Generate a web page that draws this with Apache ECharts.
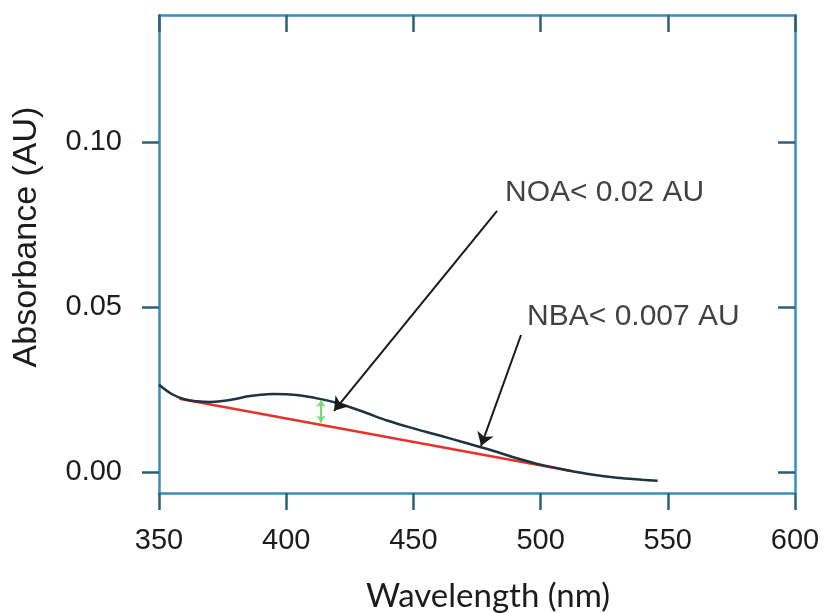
<!DOCTYPE html>
<html>
<head>
<meta charset="utf-8">
<script src="https://cdn.jsdelivr.net/npm/echarts@6/dist/echarts.min.js"></script>
<style>
html,body{margin:0;padding:0;background:#fff;}
#chart{width:824px;height:613px;}
</style>
</head>
<body>
<div id="chart"></div>
<script>
// ---- data ----
const wavelength = [350, 355, 360, 365, 370, 375, 380, 385, 390, 395, 400, 405, 410, 420, 430, 440, 450, 460, 470, 480, 490, 500, 510, 520, 530, 540, 546];
const absorbance = [0.0264, 0.0236, 0.0220, 0.0214, 0.0212, 0.0215, 0.0221, 0.0229, 0.0234, 0.0236, 0.0235, 0.0232, 0.0226, 0.0209, 0.0183, 0.0155, 0.0132, 0.0111, 0.0089, 0.0067, 0.0043, 0.0022, 0.0006, -0.0008, -0.0018, -0.0024, -0.0027];
const baselineX = [358, 512];
const baselineY = [0.0222, 0.0003];
const yTickValues = [0, 0.05, 0.10];
const noaArrow = [[482.9, 0.0791], [418.8, 0.0185]];
const nbaArrow = [[492.3, 0.0415], [476.6, 0.0079]];
const gapArrow = [[413.7, 0.0150], [413.7, 0.0218]];
const noteTexts = ['NOA< 0.02 AU', 'NBA< 0.007 AU'];
const notePositions = [[486, 0.0845], [494.7, 0.047]];
const xAxisTitle = 'Wavelength (nm)';
const yAxisTitle = 'Absorbance (AU)';

// ---- chart ----
const chart = echarts.init(document.getElementById('chart'));
const axisBlue = '#3b8dba';
const tickCol = '#2d5f76';
const tickFont = {fontFamily: 'Liberation Sans, Arial, sans-serif', fontSize: 29, color: '#1c1c1c'};

const xBase = {
  type: 'value', min: 350, max: 600, interval: 50,
  splitLine: {show: false},
  axisLine: {show: true, onZero: false, lineStyle: {color: axisBlue, width: 2.5}},
  axisTick: {show: true, length: 17, lineStyle: {color: tickCol, width: 2.5}}
};
const yBase = {
  type: 'value', min: -0.0064, max: 0.1385,
  splitLine: {show: false},
  axisLine: {show: true, onZero: false, lineStyle: {color: axisBlue, width: 2.5}},
  axisTick: {show: true, length: 17, customValues: yTickValues, lineStyle: {color: tickCol, width: 2.5}}
};

const option = {
  animation: false,
  backgroundColor: '#ffffff',
  grid: {left: 159, right: 29, top: 15, bottom: 120, containLabel: false},
  xAxis: [
    Object.assign({}, xBase, {
      position: 'bottom',
      axisLabel: Object.assign({margin: 33}, tickFont)
    }),
    Object.assign({}, xBase, {
      position: 'top',
      axisTick: {show: true, inside: true, length: 17, lineStyle: {color: tickCol, width: 2.5}},
      axisLabel: {show: false}
    })
  ],
  yAxis: [
    Object.assign({}, yBase, {
      position: 'left',
      axisLabel: Object.assign({margin: 37, customValues: yTickValues, formatter: v => v.toFixed(2)}, tickFont)
    }),
    Object.assign({}, yBase, {
      position: 'right',
      axisTick: {show: true, inside: true, length: 17, customValues: yTickValues, lineStyle: {color: tickCol, width: 2.5}},
      axisLabel: {show: false}
    })
  ],
  graphic: [
    {type: 'text', x: 488, y: 596, style: {text: xAxisTitle, font: '33px Lato, "Noto Sans", sans-serif', fill: '#1c1c1c', textAlign: 'center', textVerticalAlign: 'middle'}},
    {type: 'text', x: 27, y: 237, rotation: Math.PI / 2, style: {text: yAxisTitle, font: '34px "Liberation Sans", Arial, sans-serif', fill: '#1c1c1c', textAlign: 'center', textVerticalAlign: 'middle'}}
  ],
  series: [
    {
      name: 'baseline', type: 'line', xAxisIndex: 0, yAxisIndex: 0,
      data: baselineX.map((x, i) => [x, baselineY[i]]),
      showSymbol: false, symbol: 'none',
      lineStyle: {color: '#e5332a', width: 2.5}, z: 2
    },
    {
      name: 'spectrum', type: 'line', xAxisIndex: 0, yAxisIndex: 0,
      data: wavelength.map((x, i) => [x, absorbance[i]]),
      smooth: 0.35, showSymbol: false, symbol: 'none',
      lineStyle: {color: '#1c3442', width: 2.5}, z: 3
    },
    {
      name: 'arrows', type: 'lines', coordinateSystem: 'cartesian2d', xAxisIndex: 0, yAxisIndex: 0,
      symbol: ['none', 'arrow'], symbolSize: 13,
      lineStyle: {color: '#1a1a1a', width: 2, opacity: 1},
      data: [{coords: noaArrow}, {coords: nbaArrow}], z: 5
    },
    {
      name: 'gap', type: 'lines', coordinateSystem: 'cartesian2d', xAxisIndex: 0, yAxisIndex: 0,
      symbol: ['arrow', 'arrow'], symbolSize: 7,
      lineStyle: {color: '#77d879', width: 2, opacity: 1},
      data: [{coords: gapArrow}], z: 4
    },
    {
      name: 'notes', type: 'scatter', xAxisIndex: 0, yAxisIndex: 0,
      symbolSize: 0, silent: true,
      data: notePositions.map((p, i) => ({value: p, name: noteTexts[i]})),
      label: {show: true, position: 'right', distance: 0, formatter: p => p.name,
        fontFamily: 'Liberation Sans, Arial, sans-serif', fontSize: 30, color: '#111111'},
      z: 6
    }
  ]
};
chart.setOption(option);
</script>
</body>
</html>
